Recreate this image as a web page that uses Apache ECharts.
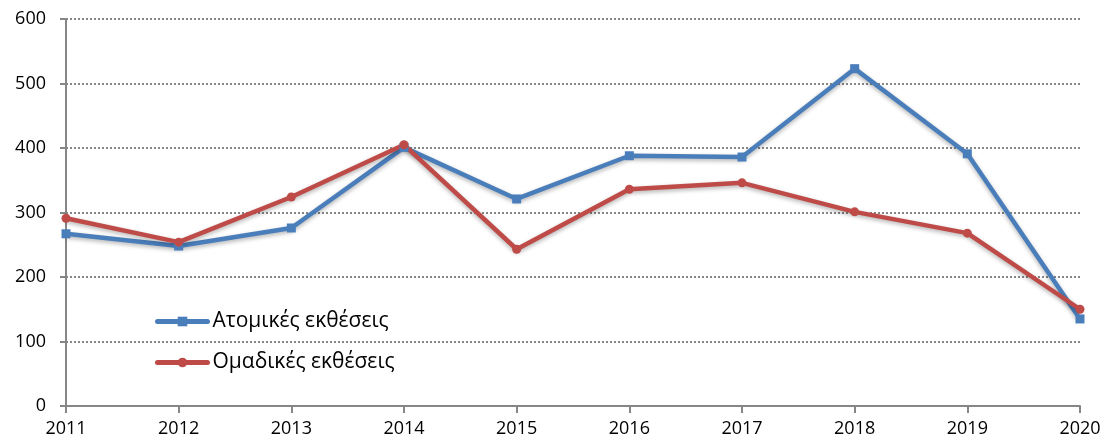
<!DOCTYPE html>
<html>
<head>
<meta charset="utf-8">
<script src="https://cdn.jsdelivr.net/npm/echarts@6/dist/echarts.min.js"></script>
<style>
  html, body { margin: 0; padding: 0; background: #fff; }
  #chart { width: 1110px; height: 448px; }
</style>
</head>
<body>
<div id="chart"></div>
<script>
const years = ["2011", "2012", "2013", "2014", "2015", "2016", "2017", "2018", "2019", "2020"];
const individual = [267, 248, 276, 401, 321, 388, 386, 523, 391, 135];
const group = [291, 254, 324, 405, 243, 336, 346, 301, 268, 150];
const seriesNames = ["Ατομικές εκθέσεις", "Ομαδικές εκθέσεις"];

const font = "'Open Sans', 'Noto Sans', sans-serif";
const axisGrey = "#868686";

const chart = echarts.init(document.getElementById("chart"));

const lineSeries = (name, data, color, symbol) => ({
    name,
    type: "line",
    data,
    symbol,
    symbolSize: 9,
    lineStyle: {
        width: 4.5,
        color,
        shadowColor: "rgba(0,0,0,0.3)",
        shadowBlur: 4,
        shadowOffsetY: 2,
    },
    itemStyle: { color },
    animation: false,
});

chart.setOption({
    backgroundColor: "#fff",
    textStyle: { fontFamily: font },
    grid: { left: 66, right: 30, top: 19, bottom: 42 },
    legend: {
        orient: "vertical",
        left: 150,
        top: 306,
        itemWidth: 50,
        itemHeight: 12,
        itemGap: 20,
        lineStyle: { width: 5, cap: "round", shadowBlur: 0, shadowOffsetY: 0 },
        textStyle: { fontSize: 21, color: "#000", fontFamily: font },
        data: seriesNames,
    },
    xAxis: {
        type: "category",
        data: years,
        boundaryGap: false,
        axisLine: { lineStyle: { color: axisGrey, width: 2 } },
        axisTick: { alignWithLabel: true, length: 7, lineStyle: { color: axisGrey, width: 2 } },
        axisLabel: { fontSize: 18, color: "#000", margin: 14 },
    },
    yAxis: {
        type: "value",
        min: 0,
        max: 600,
        interval: 100,
        axisLine: { show: true, lineStyle: { color: axisGrey, width: 2 } },
        axisTick: { show: true, length: 6, lineStyle: { color: axisGrey, width: 2 } },
        axisLabel: { fontSize: 18, color: "#000", margin: 20 },
        splitLine: { lineStyle: { color: axisGrey, type: [2, 2], width: 2 } },
    },
    series: [
        lineSeries(seriesNames[0], individual, "#4a7ebb", "rect"),
        lineSeries(seriesNames[1], group, "#be4b48", "circle"),
    ],
});
</script>
</body>
</html>
